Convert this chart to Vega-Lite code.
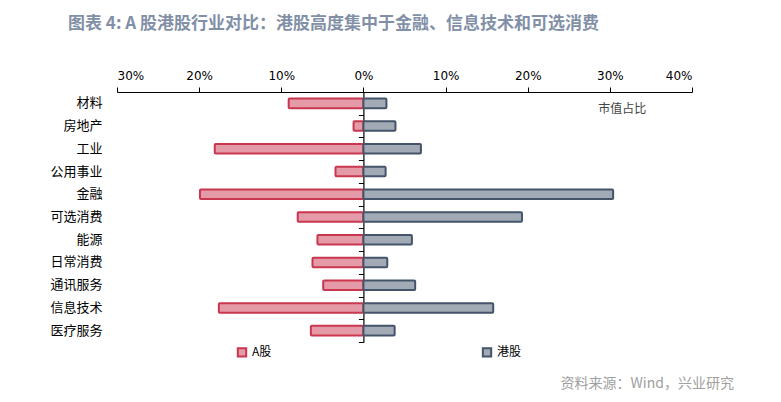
{
  "$schema": "https://vega.github.io/schema/vega-lite/v6.json",
  "width": 575,
  "height": 250,
  "autosize": "none",
  "padding": {"left": 117, "top": 92, "right": 89, "bottom": 60},
  "background": "white",
  "title": {
    "text": "图表 4: A 股港股行业对比：港股高度集中于金融、信息技术和可选消费",
    "anchor": "start",
    "frame": "group",
    "dx": -49,
    "offset": 36,
    "font": "Noto Sans CJK SC",
    "fontSize": 17,
    "fontWeight": "bold",
    "color": "#8190a6"
  },
  "data": {
    "values": [
      {"行业": "材料", "市场": "A股", "占比": -9.1},
      {"行业": "材料", "市场": "港股", "占比": 2.8},
      {"行业": "房地产", "市场": "A股", "占比": -1.2},
      {"行业": "房地产", "市场": "港股", "占比": 3.9},
      {"行业": "工业", "市场": "A股", "占比": -18.1},
      {"行业": "工业", "市场": "港股", "占比": 7.0},
      {"行业": "公用事业", "市场": "A股", "占比": -3.4},
      {"行业": "公用事业", "市场": "港股", "占比": 2.7},
      {"行业": "金融", "市场": "A股", "占比": -19.9},
      {"行业": "金融", "市场": "港股", "占比": 30.4},
      {"行业": "可选消费", "市场": "A股", "占比": -8.0},
      {"行业": "可选消费", "市场": "港股", "占比": 19.3},
      {"行业": "能源", "市场": "A股", "占比": -5.6},
      {"行业": "能源", "市场": "港股", "占比": 5.9},
      {"行业": "日常消费", "市场": "A股", "占比": -6.2},
      {"行业": "日常消费", "市场": "港股", "占比": 2.9},
      {"行业": "通讯服务", "市场": "A股", "占比": -4.9},
      {"行业": "通讯服务", "市场": "港股", "占比": 6.3},
      {"行业": "信息技术", "市场": "A股", "占比": -17.6},
      {"行业": "信息技术", "市场": "港股", "占比": 15.8},
      {"行业": "医疗服务", "市场": "A股", "占比": -6.4},
      {"行业": "医疗服务", "市场": "港股", "占比": 3.8}
    ]
  },
  "layer": [
    {
      "mark": {"type": "bar", "strokeWidth": 2, "cornerRadius": 1, "height": {"band": 0.42}},
      "encoding": {
        "y": {
          "field": "行业", "type": "nominal",
          "sort": ["材料", "房地产", "工业", "公用事业", "金融", "可选消费", "能源", "日常消费", "通讯服务", "信息技术", "医疗服务"],
          "scale": {"paddingInner": 0, "paddingOuter": 0},
          "axis": {"orient": "left", "offset": 13, "domain": false, "ticks": false, "title": null,
                   "labelFont": "Noto Sans CJK SC", "labelFontSize": 13, "labelColor": "#000", "labelPadding": 2}
        },
        "x": {
          "field": "占比", "type": "quantitative", "stack": null,
          "scale": {"domain": [-30, 40], "nice": false},
          "axis": {"orient": "top", "values": [-30, -20, -10, 0, 10, 20, 30, 40],
                   "labelExpr": "abs(datum.value) + '%'", "grid": false, "title": null,
                   "domainColor": "#000", "tickColor": "#000", "tickSize": 5, "labelPadding": 5,
                   "labelFont": "DejaVu Sans", "labelFontSize": 12, "labelColor": "#000"}
        },
        "fill": {"field": "市场", "type": "nominal",
                 "scale": {"domain": ["A股", "港股"], "range": ["#e49ba7", "#a2aab5"]}},
        "stroke": {"field": "市场", "type": "nominal",
                   "scale": {"domain": ["A股", "港股"], "range": ["#c8374e", "#44546a"]}}
      }
    },
    {
      "mark": {"type": "point", "opacity": 0},
      "encoding": {
        "y": {
          "field": "行业", "type": "nominal",
          "sort": ["材料", "房地产", "工业", "公用事业", "金融", "可选消费", "能源", "日常消费", "通讯服务", "信息技术", "医疗服务"],
          "axis": {"orient": "left", "offset": -246.4, "labels": false, "title": null,
                   "domain": true, "domainColor": "#000", "domainWidth": 1.2,
                   "ticks": true, "tickBand": "extent", "tickSize": 5, "tickColor": "#000"}
        },
        "x": {"datum": 0}
      }
    },
    {
      "data": {"values": [{"标注": "市值占比", "x": 31.5, "行业": "材料"}]},
      "mark": {"type": "text", "align": "center", "dy": 6,
               "font": "Noto Sans CJK SC", "fontSize": 12, "fontWeight": "normal", "color": "#444"},
      "encoding": {
        "text": {"field": "标注"},
        "x": {"field": "x", "type": "quantitative"},
        "y": {"field": "行业", "type": "nominal", "axis": null,
              "sort": ["材料", "房地产", "工业", "公用事业", "金融", "可选消费", "能源", "日常消费", "通讯服务", "信息技术", "医疗服务"]}
      }
    },
    {
      "data": {"values": [{"来源": "资料来源：Wind，兴业研究", "x": 24, "行业": "医疗服务"}]},
      "mark": {"type": "text", "align": "left", "dy": 53,
               "font": "Noto Sans CJK SC", "fontSize": 14, "fontWeight": "normal", "color": "#a0a0a0"},
      "encoding": {
        "text": {"field": "来源"},
        "x": {"field": "x", "type": "quantitative"},
        "y": {"field": "行业", "type": "nominal", "axis": null,
              "sort": ["材料", "房地产", "工业", "公用事业", "金融", "可选消费", "能源", "日常消费", "通讯服务", "信息技术", "医疗服务"]}
      }
    }
  ],
  "resolve": {"axis": {"y": "independent"}},
  "config": {
    "view": {"stroke": null},
    "legend": {
      "orient": "bottom", "direction": "horizontal", "title": null, "offset": 4,
      "symbolType": "square", "symbolSize": 70, "symbolStrokeWidth": 2, "symbolOffset": 119,
      "labelFont": "Noto Sans CJK SC", "labelFontSize": 12, "labelColor": "#000",
      "columnPadding": 90
    }
  }
}
